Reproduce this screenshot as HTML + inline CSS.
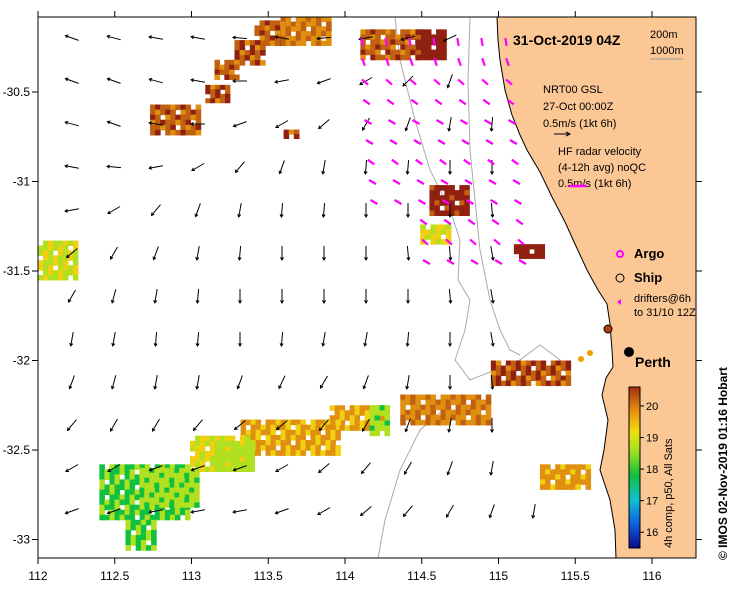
<!DOCTYPE html>
<html><head><meta charset="utf-8"><style>
body{margin:0;background:#fff;font-family:"Liberation Sans",sans-serif}
svg text{font-family:"Liberation Sans",sans-serif}
</style></head><body>
<svg id="map" width="739" height="592" viewBox="0 0 739 592" xmlns="http://www.w3.org/2000/svg">
<defs>
<clipPath id="clip"><rect x="38" y="17" width="658" height="541"/></clipPath>
<linearGradient id="cb" x1="0" y1="1" x2="0" y2="0">
<stop offset="0" stop-color="#0a0a8c"/><stop offset="0.15" stop-color="#1060e0"/><stop offset="0.3" stop-color="#10c0d0"/><stop offset="0.45" stop-color="#10c040"/><stop offset="0.6" stop-color="#a0e020"/><stop offset="0.72" stop-color="#f0e010"/><stop offset="0.85" stop-color="#e89010"/><stop offset="1" stop-color="#a03010"/>
</linearGradient>
</defs>
<g clip-path="url(#clip)">
<polygon fill="#fbc795" stroke="#000" stroke-width="1" points="497,17 498,40 500,60 505,90 512,115 520,135 527,150 540,172 552,197 565,222 575,244 587,270 598,290 607,304 610,324 612,350 613,367 606,378 602,395 608,420 604,450 600,470 610,500 615,530 616,558 700,558 700,17"/>
<g id="contours" fill="none" stroke="#aaa" stroke-width="1">
<path d="M395,17 L400,60 L415,120 L430,170 L450,210 L460,240 L458,280 L470,300 L465,330 L455,360 L470,380 L520,360 L540,345 L560,360 L570,380"/>
<path d="M470,17 L468,80 L470,150 L475,200 L480,250 L490,300 L500,330 L510,350 L520,355"/>
<path d="M455,400 L420,430 L400,470 L385,520 L378,558"/>
</g>
<g id="sst"></g>
<g id="arrows"></g>
<g id="hf"></g>
</g>
<rect x="38" y="17" width="658" height="541" fill="none" stroke="#000"/>
<g id="axes" font-size="12"></g>
<text x="513" y="45" font-size="14" font-weight="bold">31-Oct-2019 04Z</text>
<text x="650" y="38" font-size="11">200m</text>
<text x="650" y="54" font-size="11">1000m</text>
<line x1="650" y1="59" x2="683" y2="59" stroke="#999"/>
<text x="543" y="93" font-size="11">NRT00 GSL</text>
<text x="543" y="110" font-size="11">27-Oct 00:00Z</text>
<text x="543" y="127" font-size="11">0.5m/s (1kt 6h)</text>
<line x1="554" y1="134" x2="570" y2="134" stroke="#000"/><path d="M566,132 L570,134 L566,136" fill="none" stroke="#000"/>
<text x="558" y="155" font-size="11">HF radar velocity</text>
<text x="558" y="171" font-size="11">(4-12h avg) noQC</text>
<text x="558" y="187" font-size="11">0.5m/s (1kt 6h)</text>
<line x1="569" y1="186" x2="587" y2="186" stroke="#f0f" stroke-width="2.5"/>
<circle cx="620" cy="254" r="3" fill="none" stroke="#f0f" stroke-width="2"/>
<text x="634" y="258" font-size="13" font-weight="bold">Argo</text>
<circle cx="620" cy="278" r="4" fill="none" stroke="#000"/>
<text x="634" y="282" font-size="13" font-weight="bold">Ship</text>
<path d="M617,302 l4,-3 l0,6 z" fill="#f0f"/>
<text x="634" y="302" font-size="11">drifters@6h</text>
<text x="634" y="316" font-size="11">to 31/10 12Z</text>
<circle cx="608" cy="329" r="4" fill="#b04010" stroke="#000"/>
<circle cx="629" cy="352" r="5" fill="#000"/>
<text x="635" y="367" font-size="14" font-weight="bold">Perth</text>
<circle cx="581" cy="359" r="3" fill="#f0a000"/><circle cx="590" cy="353" r="3" fill="#f0a000"/>
<rect x="629" y="387" width="11" height="161" fill="url(#cb)" stroke="#000"/>
<g id="cbticks" font-size="11"></g>
<text transform="translate(672,548) rotate(-90)" font-size="11">4h comp, p50, All Sats</text>
<text transform="translate(727,560) rotate(-90)" font-size="12" font-weight="bold">© IMOS 02-Nov-2019 01:16 Hobart</text>
</svg>
<script>
const xTicks=[112,112.5,113,113.5,114,114.5,115,115.5,116];
const yTicks=[-30.5,-31,-31.5,-32,-32.5,-33];
const cbTicks=[16,17,18,19,20];
// SST patches: top-left lon/lat, width/height in degrees, temperature
const sstLon=[113.41,113.28,113.15,113.09,113.58,114.1,114.46,112.73,113.6,112.0,114.55,114.49,115.1,114.95,114.36,113.9,114.16,113.32,112.99,113.15,112.4,112.66,115.27,112.57];
const sstLat=[-30.1,-30.21,-30.32,-30.46,-30.08,-30.15,-30.15,-30.57,-30.71,-31.33,-31.02,-31.24,-31.35,-32.0,-32.19,-32.25,-32.25,-32.33,-32.42,-32.45,-32.58,-32.6,-32.58,-32.89];
const sstW=[0.2,0.2,0.16,0.16,0.33,0.39,0.2,0.33,0.1,0.26,0.26,0.2,0.2,0.52,0.59,0.39,0.13,0.65,0.39,0.26,0.59,0.39,0.33,0.2];
const sstH=[0.14,0.14,0.11,0.1,0.16,0.17,0.17,0.17,0.05,0.22,0.17,0.11,0.08,0.14,0.17,0.14,0.17,0.2,0.2,0.17,0.31,0.22,0.14,0.17];
const sstT=[19.8,19.9,19.8,19.9,19.6,19.8,20.4,19.8,19.9,18.6,20.3,18.8,20.4,19.9,19.6,19.2,18.2,19.2,18.8,18.4,17.9,18.3,19.3,18.0];
// model current arrows: rows of angles (deg, screen, 0=east, 90=down)
const arrowAng=[
[200,195,190,190,185,190,175,170,165,155,120,100],
[200,200,195,190,180,170,160,150,135,110,100,95],
[195,200,190,180,160,150,140,120,110,100,95,90],
[190,185,170,150,130,110,100,95,95,90,90,85],
[170,150,130,110,100,95,95,90,90,90,85,80],
[140,120,110,100,95,90,90,90,85,85,80,80],
[120,105,100,95,90,90,90,90,90,85,80,75],
[100,100,95,95,90,95,100,100,95,90,80,80],
[110,105,100,100,110,115,120,110,100,90,85,80],
[130,120,120,130,140,140,130,120,110,100,90,85],
[150,150,160,160,160,150,140,130,120,110,100,90],
[160,160,170,170,170,160,150,140,130,120,110,100]];
const hfAng=[80,70,40,35,30,30,35,30,30,35,40,30];
const ns='http://www.w3.org/2000/svg';
const X=lon=>38+(lon-112)*153.5;
const Y=lat=>92+(-30.5-lat)*179;
const CB=t=>548-(t-15.5)*(161/5.1);
function col(t){const s=[[16,'#1060e0'],[17,'#10b0d0'],[18,'#10c040'],[18.7,'#b0e020'],[19.1,'#f0d010'],[19.6,'#e09010'],[20,'#c06010'],[20.5,'#902010']];for(const[v,c] of s){if(t<=v)return c;}return '#902010';}
function mk(tag,at,p){const e=document.createElementNS(ns,tag);for(const k in at)e.setAttribute(k,at[k]);p.appendChild(e);return e;}
const ax=document.getElementById('axes');
xTicks.forEach(v=>{const x=X(v);
const t=mk('line',{x1:x,y1:558,x2:x,y2:564,stroke:'#000'},ax);


mk('line',{x1:x,y1:17,x2:x,y2:11,stroke:'#000'},ax);
const l=mk('text',{x:x,y:580,'text-anchor':'middle'},ax);l.textContent=v;

});
yTicks.forEach(v=>{const y=Y(v);
const t=mk('line',{x1:32,y1:y,x2:38,y2:y,stroke:'#000'},ax);


mk('line',{x1:696,y1:y,x2:702,y2:y,stroke:'#000'},ax);
const l=mk('text',{x:30,y:y+4,'text-anchor':'end'},ax);l.textContent=v;

});
const cbg=document.getElementById('cbticks');
cbTicks.forEach(v=>{const y=CB(v);mk('line',{x1:640,y1:y,x2:644,y2:y,stroke:'#000'},cbg);
const l=mk('text',{x:646,y:y+4},cbg);l.textContent=v;

});
const sg=document.getElementById('sst');
sstLon.forEach((lo,i)=>{const x0=X(lo),y0=Y(sstLat[i]),w=sstW[i]*153.5,h=sstH[i]*179;
const n=Math.max(1,Math.round(w/5)),m=Math.max(1,Math.round(h/5));
for(let a=0;a<n;a++)for(let b=0;b<m;b++){if((a*7+b*3+i)%9==0)continue;
const r=mk('rect',{x:x0+a*w/n,y:y0+b*h/m,width:w/n+0.5,height:h/m+0.5,fill:col(sstT[i]+((a*2+b+i)%5-2)*0.15)},sg);

}});
const ag=document.getElementById('arrows');
arrowAng.forEach((row,ri)=>row.forEach((ang,ci)=>{const cx=72+ci*42,cy=38+ri*43;if(cx>X(114.9)+(ri*5))return;
const a=ang*Math.PI/180,L=7,dx=Math.cos(a)*L,dy=Math.sin(a)*L;
const g=mk('g',{stroke:'#000','stroke-width':1,fill:'none'},ag);


mk('line',{x1:cx-dx,y1:cy-dy,x2:cx+dx,y2:cy+dy},g);
const h1=a+2.6,h2=a-2.6;mk('path',{d:`M${cx+dx+Math.cos(h1)*3},${cy+dy+Math.sin(h1)*3} L${cx+dx},${cy+dy} L${cx+dx+Math.cos(h2)*3},${cy+dy+Math.sin(h2)*3}`},g);}));
const hg=document.getElementById('hf');
for(let r=0;r<12;r++){for(let c=0;c<7;c++){const cx=362+c*24+r*1.5,cy=42+r*20;if(cx>X(115.15)+r*3)continue;if(r>8&&c<2)continue;
const a=hfAng[r]*Math.PI/180,dx=Math.cos(a)*4,dy=Math.sin(a)*4;
const l=mk('line',{x1:cx-dx,y1:cy-dy,x2:cx+dx,y2:cy+dy,stroke:'#f0f','stroke-width':2.2},hg);

}}
</script>
</body></html>
